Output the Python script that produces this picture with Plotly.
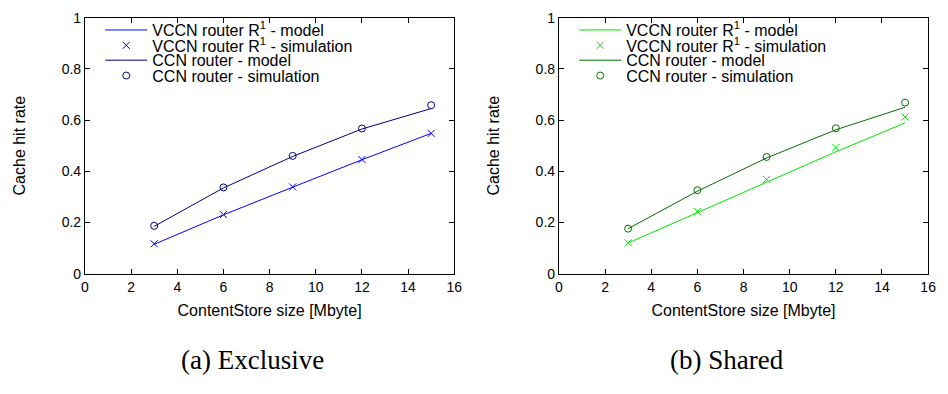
import plotly.graph_objects as go

# ---------------- data ----------------
cs_size = [3, 6, 9, 12, 15]
x_ticks = [0, 2, 4, 6, 8, 10, 12, 14, 16]
y_ticks = [0, 0.2, 0.4, 0.6, 0.8, 1]

# (a) Exclusive
excl_vccn_model = [0.115, 0.230, 0.338, 0.445, 0.548]
excl_vccn_sim = [0.117, 0.231, 0.339, 0.446, 0.548]
excl_ccn_model = [0.185, 0.335, 0.458, 0.565, 0.645]
excl_ccn_sim = [0.187, 0.337, 0.460, 0.567, 0.658]

# (b) Shared
shar_vccn_model = [0.120, 0.238, 0.359, 0.476, 0.589]
shar_vccn_sim = [0.121, 0.243, 0.368, 0.493, 0.612]
shar_ccn_model = [0.176, 0.322, 0.452, 0.562, 0.650]
shar_ccn_sim = [0.176, 0.326, 0.456, 0.568, 0.668]

legend_names = ["VCCN router R<sup>1</sup> - model",
                "VCCN router R<sup>1</sup> - simulation",
                "CCN router - model",
                "CCN router - simulation"]
captions = ["(a) Exclusive", "(b) Shared"]
x_title = "ContentStore size [Mbyte]"
y_title = "Cache hit rate"

colors_a = ["#0000ff", "#0000ff", "#000080", "#000080"]
colors_b = ["#00e600", "#00e600", "#006f00", "#006f00"]

W, H = 948, 394
FONT = "Liberation Sans, Arial, sans-serif"

fig = go.Figure()

panels = [
    ("x", "y", [excl_vccn_model, excl_vccn_sim, excl_ccn_model, excl_ccn_sim], colors_a, 0),
    ("x2", "y2", [shar_vccn_model, shar_vccn_sim, shar_ccn_model, shar_ccn_sim], colors_b, 1),
]

row_y = [23, 39, 54.5, 70.5]
leg_x0 = [97.5, 577.5]

for xa, ya, series, cols, p in panels:
    for k, (vals, col) in enumerate(zip(series, cols)):
        lg = "legend" if (p * 4 + k) == 0 else f"legend{p * 4 + k + 1}"
        if k % 2 == 0:
            tr = go.Scatter(x=cs_size, y=vals, mode="lines",
                            line=dict(color=col, width=1))
        else:
            sym = "x-thin" if k == 1 else "circle-open"
            tr = go.Scatter(x=cs_size, y=vals, mode="markers",
                            marker=dict(symbol=sym, size=7,
                                        color=col, line=dict(color=col, width=1)))
        tr.update(name=legend_names[k], xaxis=xa, yaxis=ya, legend=lg, showlegend=True,
                  hoverinfo="skip")
        fig.add_trace(tr)

legends = {}
for p in range(2):
    for k in range(4):
        idx = p * 4 + k
        key = "legend" if idx == 0 else f"legend{idx + 1}"
        legends[key] = dict(
            x=leg_x0[p] / W, y=1 - row_y[k] / H, xanchor="left", yanchor="middle",
            bgcolor="rgba(0,0,0,0)", borderwidth=0, itemwidth=42,
            font=dict(family=FONT, size=16, color="black"),
            tracegroupgap=0, itemclick=False,
        )

axis_common = dict(
    showline=True, linecolor="black", linewidth=1, mirror="allticks",
    ticks="inside", ticklen=5, tickcolor="black", tickwidth=1,
    showgrid=False, zeroline=False,
    tickfont=dict(family=FONT, size=14, color="black"),
)

ydom = [1 - 277 / H, 1 - 10 / H]
title_font = dict(family=FONT, size=16, color="black")
fig.update_layout(
    width=W, height=H, margin=dict(l=0, r=0, t=0, b=0),
    paper_bgcolor="white", plot_bgcolor="white",
    xaxis=dict(domain=[82 / W, 456 / W], range=[0, 16], tickvals=x_ticks, anchor="y",
               title=dict(text=x_title, font=title_font, standoff=11), **axis_common),
    yaxis=dict(domain=ydom, range=[0, 1], tickvals=y_ticks, anchor="x",
               title=dict(text=y_title, font=title_font, standoff=32), **axis_common),
    xaxis2=dict(domain=[562 / W, 936 / W], range=[0, 16], tickvals=x_ticks, anchor="y2",
                title=dict(text=x_title, font=title_font, standoff=11), **axis_common),
    yaxis2=dict(domain=ydom, range=[0, 1], tickvals=y_ticks, anchor="x2",
                title=dict(text=y_title, font=title_font, standoff=32), **axis_common),
    **legends,
)

cap_x = [252, 732]
for cx, txt in zip(cap_x, captions):
    fig.add_annotation(x=cx / W, y=1 - 367 / H, xref="paper", yref="paper",
                       text=txt, showarrow=False, xanchor="center", yanchor="middle",
                       font=dict(family="Liberation Serif, Times New Roman, serif", size=27, color="black"))

fig.write_html("out.html", config={"displayModeBar": False},
               post_script="document.body.style.margin='0';document.body.style.overflow='hidden';")
